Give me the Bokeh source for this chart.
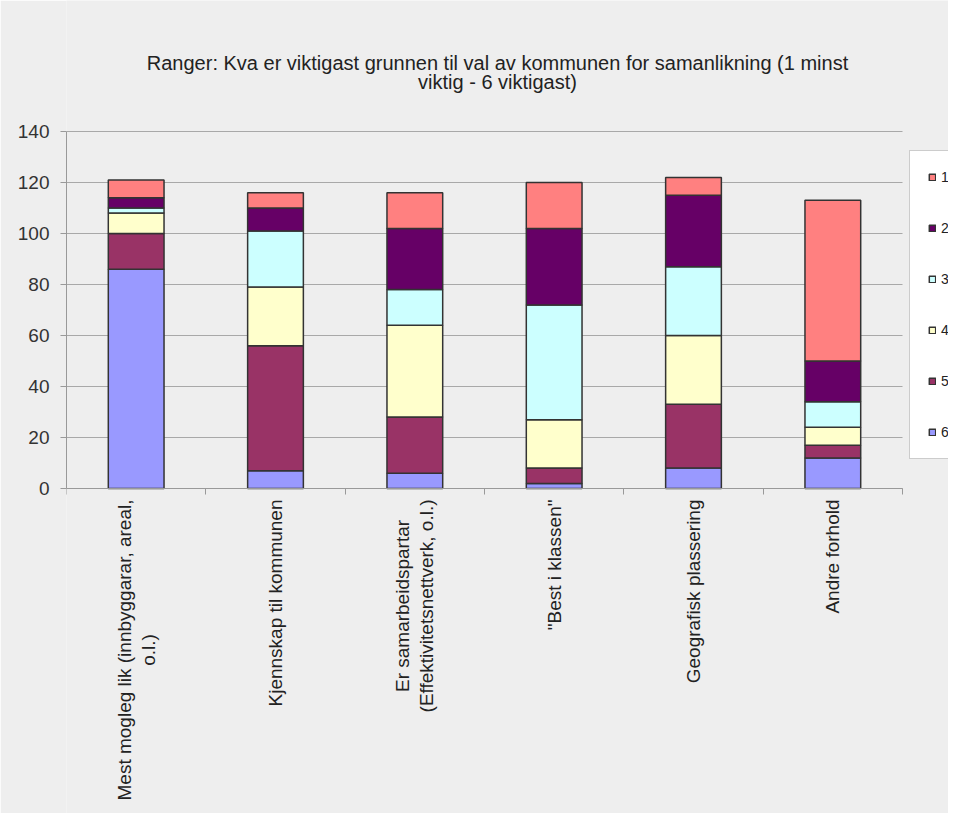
import math
from bokeh.plotting import figure
from bokeh.models import (ColumnDataSource, Range1d, FixedTicker, Legend, LegendItem,
                          LinearAxis, Grid)
from bokeh.core.properties import value
from bokeh.embed import file_html
from bokeh.resources import INLINE

categories = [
    "Mest mogleg lik (innbyggarar, areal,\no.l.)",
    "Kjennskap til kommunen",
    "Er samarbeidspartar\n(Effektivitetsnettverk, o.l.)",
    "\"Best i klassen\"",
    "Geografisk plassering",
    "Andre forhold",
]
rank_names = ["1", "2", "3", "4", "5", "6"]
rank1 = [7, 6, 14, 18, 7, 63]
rank2 = [4, 9, 24, 30, 28, 16]
rank3 = [2, 22, 14, 45, 27, 10]
rank4 = [8, 23, 36, 19, 27, 7]
rank5 = [14, 49, 22, 6, 25, 5]
rank6 = [86, 7, 6, 2, 8, 12]
colors = {"1": "#FF8080", "2": "#660066", "3": "#CCFFFF",
          "4": "#FFFFCC", "5": "#993366", "6": "#9999FF"}
y_ticks = [0, 20, 40, 60, 80, 100, 120, 140]
title_text = ("Ranger: Kva er viktigast grunnen til val av kommunen for samanlikning (1 minst\n"
              "viktig - 6 viktigast)")

FONT = "Liberation Sans"
BG = "#eeeeee"

# geometry (pixels)
W, H = 948, 813
LEFT = 66
PLOT_RIGHT_PX = 902                # pixel column where the category axis ends
Y0_PX, YTOP_PX = 488, 131          # pixel rows of y=0 and y=140
ncat = len(categories)
ymax = y_ticks[-1]
ppu = (Y0_PX - YTOP_PX) / ymax
y_start = -(H - Y0_PX) / ppu
y_end = ymax + YTOP_PX / ppu
x_end = ncat * (W - LEFT) / (PLOT_RIGHT_PX - LEFT)

xs = [i + 0.5 for i in range(ncat)]
source = ColumnDataSource(dict(x=xs, **{"1": rank1, "2": rank2, "3": rank3,
                                        "4": rank4, "5": rank5, "6": rank6}))

p = figure(width=W, height=H, output_backend="svg", toolbar_location=None,
           x_range=Range1d(0, x_end), y_range=Range1d(y_start, y_end),
           x_axis_location=None,
           min_border_left=LEFT, min_border_right=0, min_border_top=0,
           min_border_bottom=0)
p.background_fill_color = BG
p.border_fill_color = BG
p.outline_line_color = None
p.title.visible = False

stack_order = ["6", "5", "4", "3", "2", "1"]
renderers = p.vbar_stack(stack_order, x="x", width=0.4, source=source,
                         fill_color=[colors[s] for s in stack_order],
                         line_color="#333333", line_width=1.5)
rmap = dict(zip(stack_order, renderers))

# title (two centred lines)
p.text(x=[ncat / 2], y=[ymax], text=[title_text],
       text_font=value(FONT), text_font_size=value("20px"), text_color="#222222",
       text_align="center", text_baseline="middle", text_line_height=0.9,
       x_offset=13, y_offset=-59)

# category labels, vertical, lines centred
p.text(x=xs, y=[0] * ncat, text=categories, angle=math.pi / 2,
       anchor=value("center_right"), text_align="center", text_baseline="middle",
       text_font=value(FONT), text_font_size=value("19px"), text_color="#222222",
       text_line_height=1.15, y_offset=11)

# y axis
p.yaxis.ticker = FixedTicker(ticks=y_ticks, minor_ticks=[])
p.yaxis.bounds = (0, ymax)
p.yaxis.axis_line_color = "#999999"
p.yaxis.major_tick_line_color = "#999999"
p.yaxis.major_tick_out = 6
p.yaxis.major_tick_in = 0
p.yaxis.minor_tick_line_color = None
p.yaxis.major_label_standoff = 11
p.yaxis.major_label_text_font = FONT
p.yaxis.major_label_text_font_size = "19px"
p.yaxis.major_label_text_color = "#333333"

# x axis at y = 0 with ticks between categories
xaxis = LinearAxis(fixed_location=0, bounds=(0, ncat),
                   ticker=FixedTicker(ticks=[], minor_ticks=list(range(ncat + 1))),
                   axis_line_color="#999999", major_tick_line_color=None,
                   major_tick_out=0, major_tick_in=0,
                   minor_tick_line_color="#999999", minor_tick_out=6, minor_tick_in=0,
                   major_label_text_font_size="0px")
p.add_layout(xaxis, "below")

p.xgrid.grid_line_color = None
p.ygrid.ticker = FixedTicker(ticks=y_ticks)
p.ygrid.grid_line_color = "#a8a8a8"
p.ygrid.grid_line_width = 1
if "cross_bounds" in Grid.properties():
    p.ygrid.cross_bounds = (0, ncat)

legend = Legend(items=[LegendItem(label=r, renderers=[rmap[r]]) for r in rank_names],
                location=(909 - LEFT, H - 459), orientation="vertical",
                glyph_width=8, glyph_height=8, label_height=16, spacing=35,
                padding=18, margin=0, label_standoff=5, label_width=60,
                label_text_font=FONT, label_text_font_size="14px",
                label_text_color="#222222",
                background_fill_color="white", background_fill_alpha=1.0,
                border_line_color="#999999", border_line_width=1)
p.add_layout(legend, "center")

open("out.html", "w").write(file_html(p, INLINE))
